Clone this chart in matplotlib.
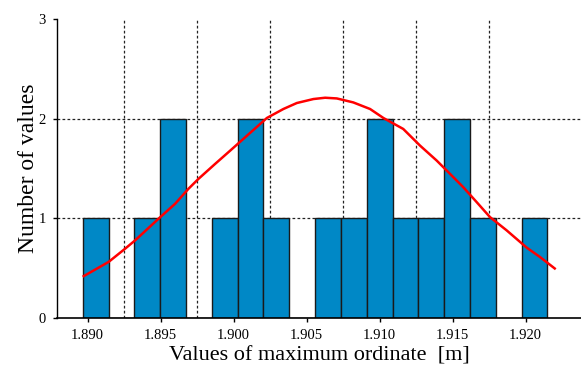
import numpy as np
import matplotlib.pyplot as plt

# Histograma de la ordenada maxima
bin_start = 1.88966
bin_width = 0.001769
counts = [1, 0, 1, 2, 0, 1, 2, 1, 0, 1, 1, 2, 1, 1, 2, 1, 0, 1]

# Curva normal ajustada
curve_x = [1.88973, 1.89144, 1.89258, 1.89326, 1.89498, 1.89600, 1.89691,
           1.89760, 1.89874, 1.89977, 1.90228, 1.90341, 1.90433, 1.90547,
           1.90627, 1.90707, 1.90820, 1.90935, 1.91026, 1.91162, 1.91277,
           1.91391, 1.91482, 1.91573, 1.91665, 1.91756, 1.91870, 1.92007,
           1.92098, 1.92200]
curve_y = [0.42, 0.563, 0.697, 0.78, 1.013, 1.147, 1.297,
           1.397, 1.547, 1.68, 2.007, 2.097, 2.157, 2.197,
           2.21, 2.203, 2.163, 2.097, 2.007, 1.897, 1.73,
           1.58, 1.447, 1.313, 1.163, 1.013, 0.88, 0.707,
           0.613, 0.497]

x_ticks = [1.890, 1.895, 1.900, 1.905, 1.910, 1.915, 1.920]
x_grid = [1.8925, 1.8975, 1.9025, 1.9075, 1.9125, 1.9175]
y_ticks = [0, 1, 2, 3]

plt.rcParams['font.family'] = ['Liberation Serif', 'DejaVu Serif']

fig = plt.figure(figsize=(5.81, 3.67), dpi=100)
ax = fig.add_axes([57 / 581, 1 - 318 / 367, 1 - 57 / 581, 299 / 367])

lefts = bin_start + bin_width * np.arange(len(counts))
ax.bar(lefts, counts, width=bin_width, align='edge', color='#0088c6',
       edgecolor='#1a1a1a', linewidth=1, zorder=2)

ax.plot(curve_x, curve_y, color='red', linewidth=1.8, zorder=3)

# Rejilla discontinua
for g in x_grid:
    ax.axvline(g, color='#222222', linewidth=0.9, dashes=(2.2, 1.8), zorder=1)
for g in [1, 2]:
    ax.axhline(g, color='#222222', linewidth=0.9, dashes=(2.2, 1.8), zorder=1)

ax.set_xlim(1.8879, 1.9238)
ax.set_ylim(0, 3)
ax.set_xticks(x_ticks)
ax.set_xticklabels(['%.3f' % t for t in x_ticks])
ax.set_yticks(y_ticks)
ax.tick_params(axis='both', labelsize=10.5, length=3, width=1, pad=5)

ax.spines['top'].set_visible(False)
ax.spines['right'].set_visible(False)
ax.spines['left'].set_linewidth(1)
ax.spines['bottom'].set_linewidth(1.2)

ax.set_xlabel('Values of maximum ordinate  [m]', fontsize=16, labelpad=3)
ax.set_ylabel('Number of values', fontsize=17, labelpad=0)

fig.savefig('out.png', dpi=100)
